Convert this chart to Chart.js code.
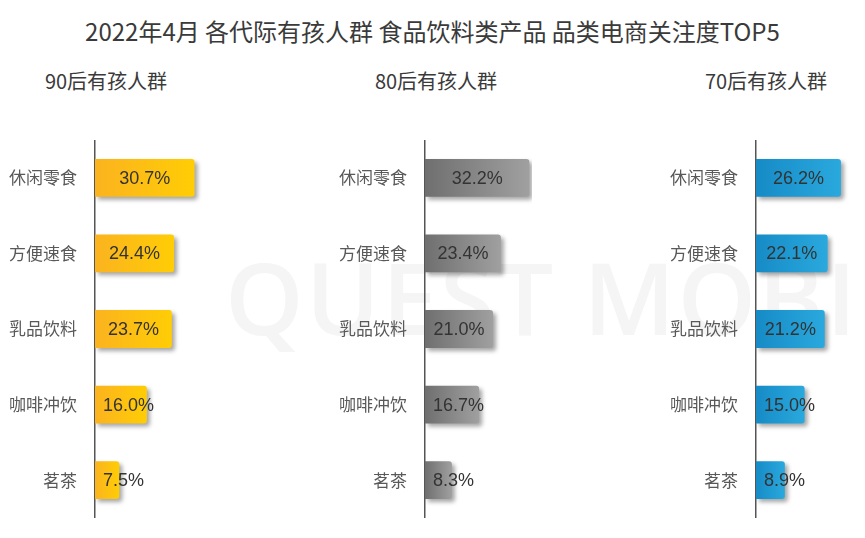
<!DOCTYPE html>
<html>
<head>
<meta charset="utf-8">
<script src="https://cdn.jsdelivr.net/npm/chart.js@4.4.1/dist/chart.umd.min.js"></script>
<style>
  body { margin: 0; background: #fff; font-family: "Noto Sans CJK SC", "Noto Sans", sans-serif; }
  #wrap { position: relative; width: 865px; height: 538px; overflow: hidden; }
  .title { position: absolute; left: 0; top: 13px; width: 865px; text-align: center; font-size: 24px; color: #3a3a3a; }
  .sub { position: absolute; top: 66px; width: 160px; text-align: center; font-size: 20px; color: #3a3a3a; }
  .mark { position: absolute; left: 225px; top: 228px; font-family: "Open Sans", sans-serif; font-weight: 600; font-size: 100px; letter-spacing: 2px; color: #f5f5f5; white-space: nowrap; }
  .box { position: absolute; top: 140px; width: 202px; height: 378px; }
</style>
</head>
<body>
<div id="wrap">
  <div class="mark">QUEST MOBILE</div>
  <div class="title">2022年4月 各代际有孩人群 食品饮料类产品 品类电商关注度TOP5</div>
  <div class="sub" style="left:26px">90后有孩人群</div>
  <div class="sub" style="left:356px">80后有孩人群</div>
  <div class="sub" style="left:686px">70后有孩人群</div>
  <div class="box" style="left:0px"><canvas id="chart90"></canvas></div>
  <div class="box" style="left:330px"><canvas id="chart80"></canvas></div>
  <div class="box" style="left:661px"><canvas id="chart70"></canvas></div>
</div>
<script>
// ==================== DATA ====================
const categories = ['休闲零食', '方便速食', '乳品饮料', '咖啡冲饮', '茗茶'];
const values90 = [30.7, 24.4, 23.7, 16.0, 7.5];
const values80 = [32.2, 23.4, 21.0, 16.7, 8.3];
const values70 = [26.2, 22.1, 21.2, 15.0, 8.9];

// gradient stops per panel: left -> right
const colors90 = ['#fbb31f', '#ffcd05'];
const colors80 = ['#6f6f6f', '#a0a0a0'];
const colors70 = ['#168bc6', '#2aa9de'];

// per-bar horizontal gradient + drop shadow
const barStyle = {
  id: 'barStyle',
  beforeDatasetDraw(chart, args, opts) {
    const ctx = chart.ctx;
    const cols = opts.colors;
    args.meta.data.forEach(bar => {
      const x0 = bar.base, x1 = bar.x;
      if (!isFinite(x0) || !isFinite(x1)) return;
      const g = ctx.createLinearGradient(x0, 0, Math.max(x1, x0 + 1), 0);
      g.addColorStop(0, cols[0]);
      g.addColorStop(1, cols[1]);
      bar.options.backgroundColor = g;
    });
    ctx.save();
    ctx.shadowColor = 'rgba(0,0,0,0.35)';
    ctx.shadowBlur = 4;
    ctx.shadowOffsetX = 3;
    ctx.shadowOffsetY = 3;
  },
  afterDatasetDraw(chart) {
    chart.ctx.restore();
  }
};

// value labels inside bars (pushed right when the bar is too short)
const valueLabels = {
  id: 'valueLabels',
  afterDatasetsDraw(chart) {
    const ctx = chart.ctx;
    const meta = chart.getDatasetMeta(0);
    const data = chart.data.datasets[0].data;
    ctx.save();
    ctx.font = '18px "Liberation Sans", Arial, sans-serif';
    ctx.fillStyle = '#333';
    ctx.textAlign = 'center';
    ctx.textBaseline = 'middle';
    meta.data.forEach((bar, i) => {
      const txt = data[i].toFixed(1) + '%';
      const w = ctx.measureText(txt).width;
      const center = (bar.base + bar.x) / 2;
      const x = Math.max(center, bar.base + 8 + w / 2);
      ctx.fillText(txt, x, bar.y + 1);
    });
    ctx.restore();
  }
};

function renderPanel(id, values, colors) {
  const ctx = document.getElementById(id);
  return new Chart(ctx, {
    type: 'bar',
    data: {
      labels: categories,
      datasets: [{
        data: values,
        // scriptable so every bar gets its own options object
        backgroundColor: () => colors[1],
        borderRadius: 3,
        borderSkipped: 'start',
        categoryPercentage: 1,
        barPercentage: 0.5
      }]
    },
    options: {
      indexAxis: 'y',
      responsive: true,
      maintainAspectRatio: false,
      animation: false,
      layout: { padding: 0 },
      plugins: {
        legend: { display: false },
        tooltip: { enabled: false },
        barStyle: { colors: colors }
      },
      scales: {
        x: {
          display: false,
          min: 0,
          max: 33
        },
        y: {
          afterFit: (s) => {
            s.width = 95;
            // tick padding would otherwise shrink the plot vertically
            s.paddingTop = 0;
            s.paddingBottom = 0;
          },
          grid: { display: false, drawTicks: false },
          border: { display: true, color: '#555', width: 1.5 },
          ticks: {
            padding: 18,
            color: '#595959',
            font: { size: 17, family: "'Noto Sans CJK SC', sans-serif" }
          }
        }
      }
    },
    plugins: [barStyle, valueLabels]
  });
}

renderPanel('chart90', values90, colors90);
renderPanel('chart80', values80, colors80);
renderPanel('chart70', values70, colors70);
</script>
</body>
</html>
